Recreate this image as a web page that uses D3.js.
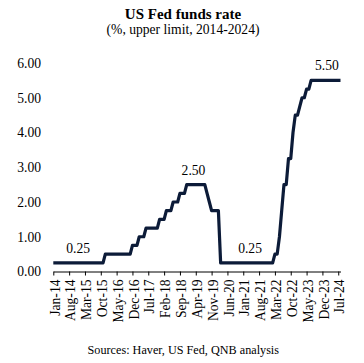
<!DOCTYPE html>
<html>
<head>
<meta charset="utf-8">
<script src="https://cdn.jsdelivr.net/npm/d3@7"></script>
<style>
  body { margin: 0; background: #fff; }
  svg text { font-family: "Liberation Serif", "Times New Roman", serif; fill: #000; }
</style>
</head>
<body>
<div id="chart"></div>
<script>
// month labels, Jan-14 .. Aug-24
var monthNames = ["Jan","Feb","Mar","Apr","May","Jun","Jul","Aug","Sep","Oct","Nov","Dec"];
var years = ["14","15","16","17","18","19","20","21","22","23","24"];

// Fed funds target, upper limit (%), one row per year
var rate2014 = [0.25,0.25,0.25,0.25,0.25,0.25,0.25,0.25,0.25,0.25,0.25,0.25];
var rate2015 = [0.25,0.25,0.25,0.25,0.25,0.25,0.25,0.25,0.25,0.25,0.25,0.50];
var rate2016 = [0.50,0.50,0.50,0.50,0.50,0.50,0.50,0.50,0.50,0.50,0.50,0.75];
var rate2017 = [0.75,0.75,1.00,1.00,1.00,1.25,1.25,1.25,1.25,1.25,1.25,1.50];
var rate2018 = [1.50,1.50,1.75,1.75,1.75,2.00,2.00,2.00,2.25,2.25,2.25,2.50];
var rate2019 = [2.50,2.50,2.50,2.50,2.50,2.50,2.50,2.50,2.25,2.00,1.75,1.75];
var rate2020 = [1.75,1.75,0.25,0.25,0.25,0.25,0.25,0.25,0.25,0.25,0.25,0.25];
var rate2021 = [0.25,0.25,0.25,0.25,0.25,0.25,0.25,0.25,0.25,0.25,0.25,0.25];
var rate2022 = [0.25,0.25,0.50,0.50,1.00,1.75,2.50,2.50,3.25,3.25,4.00,4.50];
var rate2023 = [4.50,4.75,5.00,5.00,5.25,5.25,5.50,5.50,5.50,5.50,5.50,5.50];
var rate2024 = [5.50,5.50,5.50,5.50,5.50,5.50,5.50,5.50];

// x tick labels (every 7th month)
var tickLabels = ["Jan-14","Aug-14","Mar-15","Oct-15","May-16","Dec-16","Jul-17","Feb-18","Sep-18",
                  "Apr-19","Nov-19","Jun-20","Jan-21","Aug-21","Mar-22","Oct-22","May-23","Dec-23","Jul-24"];
var yTicks = [0, 1, 2, 3, 4, 5, 6];

// value callouts
var callouts = [
  {month: "Dec-14", value: 0.25, text: "0.25"},
  {month: "Mar-19", value: 2.50, text: "2.50"},
  {month: "Apr-21", value: 0.25, text: "0.25"},
  {month: "Feb-24", value: 5.50, text: "5.50"}
];

var rates = [].concat(rate2014, rate2015, rate2016, rate2017, rate2018, rate2019,
                      rate2020, rate2021, rate2022, rate2023, rate2024);
var months = [];
years.forEach(function(y){
  monthNames.forEach(function(m){ months.push(m + "-" + y); });
});
months = months.slice(0, rates.length);
var data = months.map(function(m, i){ return {month: m, value: rates[i]}; });

var width = 364, height = 363;

var svg = d3.select("#chart").append("svg")
  .attr("width", width)
  .attr("height", height);

var x = d3.scalePoint()
  .domain(months)
  .range([53.3, 340.5]);

var y = d3.scaleLinear()
  .domain([0, 6])
  .range([271.5, 63]);

// title
svg.append("text")
  .attr("x", 183)
  .attr("y", 19)
  .attr("text-anchor", "middle")
  .style("font-size", "15px")
  .style("font-weight", "bold")
  .text("US Fed funds rate");

svg.append("text")
  .attr("x", 183)
  .attr("y", 34)
  .attr("text-anchor", "middle")
  .style("font-size", "13.6px")
  .text("(%, upper limit, 2014-2024)");

// y labels, no axis line
svg.append("g")
  .selectAll("text")
  .data(yTicks)
  .enter().append("text")
    .attr("x", 41)
    .attr("y", function(d){ return y(d); })
    .attr("dy", "0.35em")
    .attr("text-anchor", "end")
    .style("font-size", "13.6px")
    .text(function(d){ return d3.format(".2f")(d); });

// x axis
var xAxis = svg.append("g")
  .attr("transform", "translate(0," + y(0) + ")")
  .call(d3.axisBottom(x).tickValues(tickLabels).tickSize(4).tickSizeOuter(0));

xAxis.select(".domain").attr("stroke", "#000");
xAxis.selectAll(".tick line").attr("stroke", "#000");
xAxis.selectAll(".tick text")
  .attr("transform", "rotate(-90)")
  .attr("text-anchor", "end")
  .attr("x", -8)
  .attr("y", 0)
  .attr("dy", "0.42em")
  .style("font-size", "13.6px")
  .style("font-family", "'Liberation Serif', 'Times New Roman', serif")
  .attr("fill", "#000");

// rate line
var line = d3.line()
  .x(function(d){ return x(d.month); })
  .y(function(d){ return y(d.value); });

svg.append("path")
  .datum(data)
  .attr("d", line)
  .attr("fill", "none")
  .attr("stroke", "#0c1b38")
  .attr("stroke-width", 3.2)
  .attr("stroke-linejoin", "round");

// callouts
svg.append("g")
  .selectAll("text")
  .data(callouts)
  .enter().append("text")
    .attr("x", function(d){ return x(d.month); })
    .attr("y", function(d){ return y(d.value) - 10; })
    .attr("text-anchor", "middle")
    .style("font-size", "13.6px")
    .text(function(d){ return d.text; });

// source note
svg.append("text")
  .attr("x", 183.3)
  .attr("y", 354)
  .attr("text-anchor", "middle")
  .style("font-size", "12.2px")
  .text("Sources: Haver, US Fed, QNB analysis");
</script>
</body>
</html>
